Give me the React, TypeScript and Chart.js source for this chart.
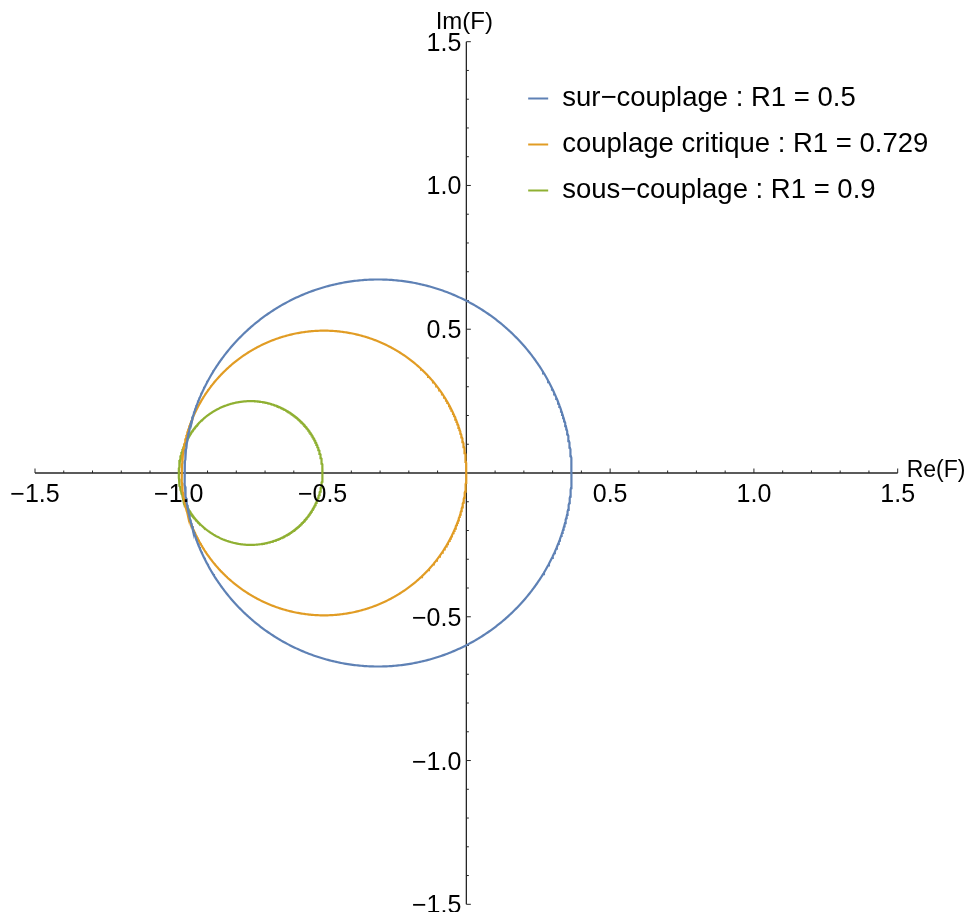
import { useEffect, useRef } from "react";
import { Chart, registerables } from "chart.js";

Chart.register(...registerables);

// ---- data ----
const seriesLabels = [
  "sur−couplage : R1 = 0.5",
  "couplage critique : R1 = 0.729",
  "sous−couplage : R1 = 0.9",
];
const circleCenterRe = [-0.307, -0.495, -0.75];
const circleCenterIm = [0, 0, 0];
const circleRadius = [0.673, 0.495, 0.25];
const seriesColors = ["#5E81B5", "#E19C24", "#8FB032"];

const axisMin = -1.5;
const axisMax = 1.5;
const minorStep = 0.1;
const xTickValues = [-1.5, -1.0, -0.5, 0.5, 1.0, 1.5];
const xTickLabels = ["−1.5", "−1.0", "−0.5", "0.5", "1.0", "1.5"];
const yTickValues = [-1.5, -1.0, -0.5, 0.5, 1.0, 1.5];
const yTickLabels = ["−1.5", "−1.0", "−0.5", "0.5", "1.0", "1.5"];
const xAxisTitle = "Re(F)";
const yAxisTitle = "Im(F)";

const FONT = '"Liberation Sans", Arial, Helvetica, sans-serif';
const AXIS_COLOR = "#262626";

function circlePoints(cx: number, cy: number, r: number) {
  const pts: { x: number; y: number }[] = [];
  const n = 720;
  for (let k = 0; k <= n; k++) {
    const t = (2 * Math.PI * k) / n;
    pts.push({ x: cx + r * Math.cos(t), y: cy + r * Math.sin(t) });
  }
  return pts;
}

const axesPlugin = {
  id: "centerAxes",
  beforeDatasetsDraw(chart: any) {
    const { ctx } = chart;
    const xs = chart.scales.x;
    const ys = chart.scales.y;
    const x0 = xs.getPixelForValue(0);
    const y0 = ys.getPixelForValue(0);
    ctx.save();
    ctx.strokeStyle = AXIS_COLOR;
    ctx.lineWidth = 1.3;
    ctx.beginPath();
    ctx.moveTo(xs.getPixelForValue(axisMin), y0);
    ctx.lineTo(xs.getPixelForValue(axisMax), y0);
    ctx.moveTo(x0, ys.getPixelForValue(axisMax));
    ctx.lineTo(x0, ys.getPixelForValue(axisMin));
    ctx.stroke();
    // ticks
    ctx.lineWidth = 1;
    const nSteps = Math.round((axisMax - axisMin) / minorStep);
    ctx.beginPath();
    for (let i = 0; i <= nSteps; i++) {
      const v = axisMin + i * minorStep;
      const isMajor = Math.abs(v * 2 - Math.round(v * 2)) < 1e-6;
      if (Math.abs(v) < 1e-9) continue;
      const len = isMajor ? 4.5 : 2.5;
      const px = xs.getPixelForValue(v);
      ctx.moveTo(px, y0);
      ctx.lineTo(px, y0 - len);
      const py = ys.getPixelForValue(v);
      ctx.moveTo(x0, py);
      ctx.lineTo(x0 + len, py);
    }
    ctx.stroke();
    ctx.restore();
  },
  afterDatasetsDraw(chart: any) {
    const { ctx } = chart;
    const xs = chart.scales.x;
    const ys = chart.scales.y;
    const x0 = xs.getPixelForValue(0);
    const y0 = ys.getPixelForValue(0);
    ctx.save();
    ctx.fillStyle = "#000";
    ctx.font = `25px ${FONT}`;
    ctx.textBaseline = "alphabetic";
    ctx.textAlign = "center";
    xTickValues.forEach((v, i) => {
      ctx.fillText(xTickLabels[i], xs.getPixelForValue(v), y0 + 29);
    });
    ctx.textAlign = "right";
    yTickValues.forEach((v, i) => {
      ctx.fillText(yTickLabels[i], x0 - 5, ys.getPixelForValue(v) + 9);
    });
    // axis titles
    ctx.font = `24px ${FONT}`;
    ctx.textAlign = "center";
    ctx.fillText(yAxisTitle, x0 - 2, ys.getPixelForValue(axisMax) - 13);
    ctx.font = `23px ${FONT}`;
    ctx.textAlign = "left";
    ctx.fillText(xAxisTitle, xs.getPixelForValue(axisMax) + 9, y0 + 4);
    // legend
    ctx.font = `27.5px ${FONT}`;
    const legX = xs.getPixelForValue(0.215);
    seriesLabels.forEach((label, i) => {
      const rowY = 90.5 + i * 46;
      ctx.strokeStyle = seriesColors[i];
      ctx.lineWidth = 2;
      ctx.beginPath();
      ctx.moveTo(legX, rowY);
      ctx.lineTo(legX + 20, rowY);
      ctx.stroke();
      ctx.fillStyle = "#000";
      ctx.textAlign = "left";
      ctx.fillText(label, legX + 34, rowY + 7);
    });
    ctx.restore();
  },
};

export default function App() {
  const canvasRef = useRef<HTMLCanvasElement | null>(null);

  useEffect(() => {
    if (!canvasRef.current) return;
    const datasets = seriesLabels.map((label, i) => ({
      label,
      data: circlePoints(circleCenterRe[i], circleCenterIm[i], circleRadius[i]),
      showLine: true,
      borderColor: seriesColors[i],
      backgroundColor: seriesColors[i],
      borderWidth: 2.2,
      pointRadius: 0,
      pointHoverRadius: 0,
      fill: false,
      tension: 0,
    }));
    const chart = new Chart(canvasRef.current, {
      type: "scatter",
      data: { datasets },
      options: {
        animation: false,
        responsive: true,
        maintainAspectRatio: false,
        layout: { padding: { left: 27, right: 68.3, top: 33.7, bottom: 7.7 } },
        scales: {
          x: { type: "linear", min: axisMin, max: axisMax, display: false },
          y: { type: "linear", min: axisMin, max: axisMax, display: false },
        },
        plugins: {
          legend: { display: false },
          tooltip: { enabled: false },
        },
        events: [],
      },
      plugins: [axesPlugin],
    });
    return () => chart.destroy();
  }, []);

  return (
    <div style={{ position: "relative", width: 958, height: 904 }}>
      <canvas ref={canvasRef} />
    </div>
  );
}
